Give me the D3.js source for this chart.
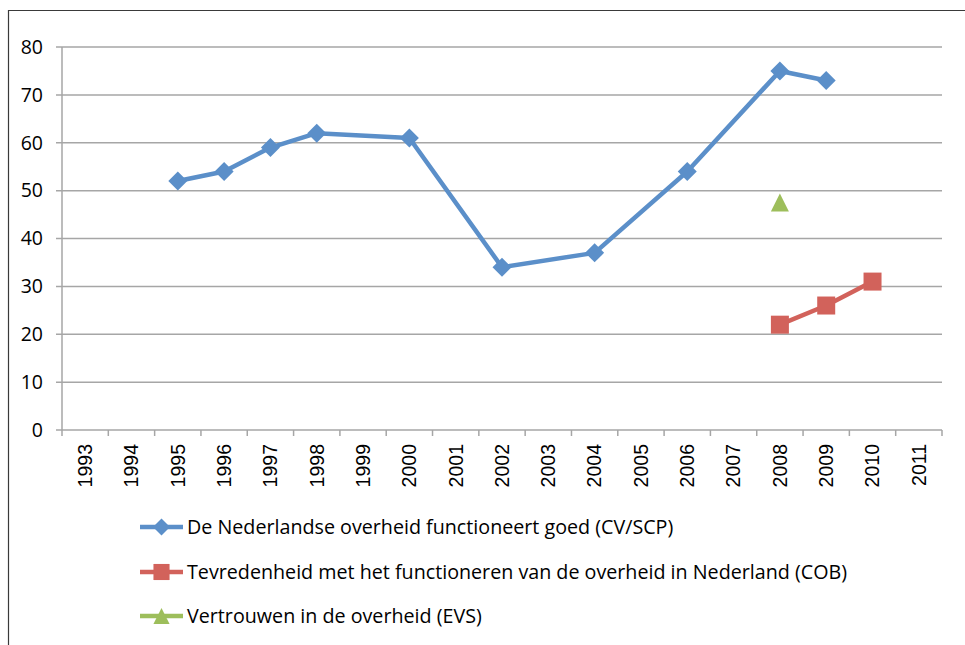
<!DOCTYPE html>
<html>
<head>
<meta charset="utf-8">
<script src="https://cdn.jsdelivr.net/npm/d3@7"></script>
<style>
  body { margin: 0; background: #fff; }
  svg text { font-family: "Open Sans", Lato, sans-serif; fill: #000; }
</style>
</head>
<body>
<svg id="chart"></svg>
<script>
const years = ["1993", "1994", "1995", "1996", "1997", "1998", "1999", "2000", "2001", "2002",
  "2003", "2004", "2005", "2006", "2007", "2008", "2009", "2010", "2011"];
const functioneertGoed = [null, null, 52, 54, 59, 62, null, 61, null, 34, null, 37, null, 54, null, 75, 73, null, null];
const tevredenheid = [null, null, null, null, null, null, null, null, null, null, null, null, null, null, null, 22, 26, 31, null];
const vertrouwen = [null, null, null, null, null, null, null, null, null, null, null, null, null, null, null, 47.5, null, null, null];
const yTicks = [0, 10, 20, 30, 40, 50, 60, 70, 80];
const seriesNames = [
  "De Nederlandse overheid functioneert goed (CV/SCP)",
  "Tevredenheid met het functioneren van de overheid in Nederland (COB)",
  "Vertrouwen in de overheid (EVS)"
];

const size = { width: 965, height: 645 };
const margin = { top: 47, right: 23, bottom: 215, left: 62 };
const COLORS = ["#5b8fc9", "#d2625b", "#9dbe5b"];

const svg = d3.select("#chart").attr("width", size.width).attr("height", size.height);

// outer frame (left and top edges visible)
svg.append("path")
  .attr("d", `M 8.5 ${size.height} L 8.5 10.5 L ${size.width} 10.5`)
  .attr("fill", "none")
  .attr("stroke", "#3a3a3a")
  .attr("stroke-width", 1.2);

const x = d3.scaleBand()
  .domain(years)
  .range([margin.left, size.width - margin.right]);

const y = d3.scaleLinear()
  .domain([0, 80])
  .range([size.height - margin.bottom, margin.top]);

// gridlines + y labels
yTicks.forEach((v) => {
  svg.append("line")
    .attr("stroke", "#a6a6a6")
    .attr("stroke-width", 1.5)
    .attr("x1", margin.left - 6)
    .attr("x2", size.width - margin.right)
    .attr("y1", y(v))
    .attr("y2", y(v));

  svg.append("text")
    .text(v)
    .attr("x", 43)
    .attr("y", y(v))
    .attr("dy", "0.35em")
    .attr("text-anchor", "end")
    .attr("font-size", 19.5);
});

// y axis line
svg.append("line")
  .attr("stroke", "#a6a6a6")
  .attr("stroke-width", 1.5)
  .attr("x1", margin.left)
  .attr("x2", margin.left)
  .attr("y1", y(80))
  .attr("y2", y(0));

// x axis ticks (band boundaries)
const xAxis = svg.append("g");
years.concat(["end"]).forEach((yr, i) => {
  const xx = i < years.length ? x(yr) : x.range()[1];
  xAxis.append("line")
    .attr("stroke", "#a6a6a6")
    .attr("stroke-width", 1.5)
    .attr("x1", xx)
    .attr("x2", xx)
    .attr("y1", y(0))
    .attr("y2", y(0) + 6);
});

years.forEach((yr) => {
  const cx = x(yr) + x.bandwidth() / 2;
  xAxis.append("text")
    .text(yr)
    .attr("transform", `translate(${cx}, ${y(0) + 14}) rotate(-90)`)
    .attr("text-anchor", "end")
    .attr("dy", "0.35em")
    .style("font-family", "'Liberation Sans', Arial, sans-serif")
    .attr("font-size", 19.5);
});

const cx = (i) => x(years[i]) + x.bandwidth() / 2;

const line = d3.line()
  .x((d) => cx(d.i))
  .y((d) => y(d.v));

const toPoints = (arr) => arr.map((v, i) => ({ v, i })).filter((d) => d.v !== null);

// marker shapes centred on their bounding box, like the spreadsheet markers
const diamond = {
  draw(ctx, s) {
    const r = Math.sqrt(s) / 2;
    ctx.moveTo(0, -r); ctx.lineTo(r, 0); ctx.lineTo(0, r); ctx.lineTo(-r, 0); ctx.closePath();
  }
};
const square = {
  draw(ctx, s) {
    const r = Math.sqrt(s) / 2;
    ctx.rect(-r, -r, 2 * r, 2 * r);
  }
};
const triangle = {
  draw(ctx, s) {
    const r = Math.sqrt(s) / 2;
    ctx.moveTo(0, -r); ctx.lineTo(r, r); ctx.lineTo(-r, r); ctx.closePath();
  }
};

const allSeries = [functioneertGoed, tevredenheid, vertrouwen];
const symbols = [diamond, square, triangle];
const symSizes = [19 * 19, 18 * 18, 18 * 18];

allSeries.forEach((arr, s) => {
  const pts = toPoints(arr);
  if (pts.length > 1) {
    svg.append("path")
      .datum(pts)
      .attr("fill", "none")
      .attr("stroke", COLORS[s])
      .attr("stroke-width", 4.5)
      .attr("stroke-linejoin", "round")
      .attr("d", line);
  }
  svg.append("g")
    .selectAll("path")
    .data(pts)
    .enter()
    .append("path")
    .attr("transform", (d) => `translate(${cx(d.i)}, ${y(d.v)})`)
    .attr("d", d3.symbol().type(symbols[s]).size(symSizes[s]))
    .attr("fill", COLORS[s]);
});

// legend
const legend = svg.append("g");
const legendY = [527, 572, 616];
seriesNames.forEach((name, s) => {
  const ly = legendY[s];
  legend.append("line")
    .attr("x1", 140)
    .attr("x2", 183)
    .attr("y1", ly)
    .attr("y2", ly)
    .attr("stroke", COLORS[s])
    .attr("stroke-width", 4.5);
  legend.append("path")
    .attr("transform", `translate(161.5, ${ly})`)
    .attr("d", d3.symbol().type(symbols[s]).size(symSizes[s] * 0.8))
    .attr("fill", COLORS[s]);
  legend.append("text")
    .text(name)
    .attr("x", 187)
    .attr("y", ly)
    .attr("dy", "0.35em")
    .attr("font-size", 19.7);
});
</script>
</body>
</html>
